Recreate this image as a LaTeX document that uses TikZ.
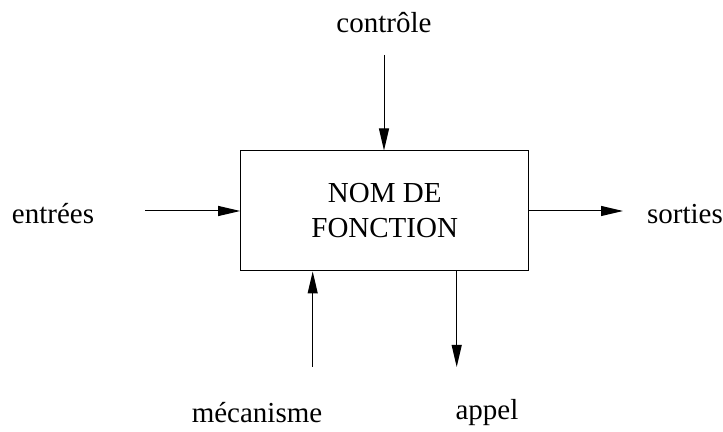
\documentclass[tikz,border=0pt]{standalone}
\usepackage{fontspec}
\setmainfont{Liberation Serif}
\usetikzlibrary{arrows.meta}
\begin{document}
\begin{tikzpicture}[x=0.5pt,y=-0.5pt,
        every node/.style={font=\fontsize{14.5}{17.5}\selectfont},
        fleche/.style={-{Triangle[length=11pt,width=5pt]},line width=0.5pt},
        boite/.style={draw,line width=0.5pt,minimum width=144pt,minimum height=60pt,align=center}]
    \useasboundingbox (0,0) rectangle (723,432);
        \node[boite] at (384.7, 211) (f) {NOM DE\\FONCTION};
        \node at (384, 23) (ctrl) {contrôle};
        \node at (53, 214) (in) {entrées};
        \node at (685, 214) (out) {sorties};
        \node at (257, 413) (meca) {mécanisme};
        \node at (487, 413) (app) {appel};
        \coordinate (c1) at (384, 55);
        \coordinate (e1) at (145, 211);
        \coordinate (s1) at (623, 211);
        \coordinate (m1) at (312.7, 367);
        \coordinate (a1) at (456.7, 367);
        \draw[fleche] (c1) -- (f.north -| c1);
        \draw[fleche] (e1) -- (f.west |- e1);
        \draw[fleche] (f.east |- s1) -- (s1);
        \draw[fleche] (m1) -- (f.south -| m1);
        \draw[fleche] (f.south -| a1) -- (a1);
    \end{tikzpicture}
\end{document}
